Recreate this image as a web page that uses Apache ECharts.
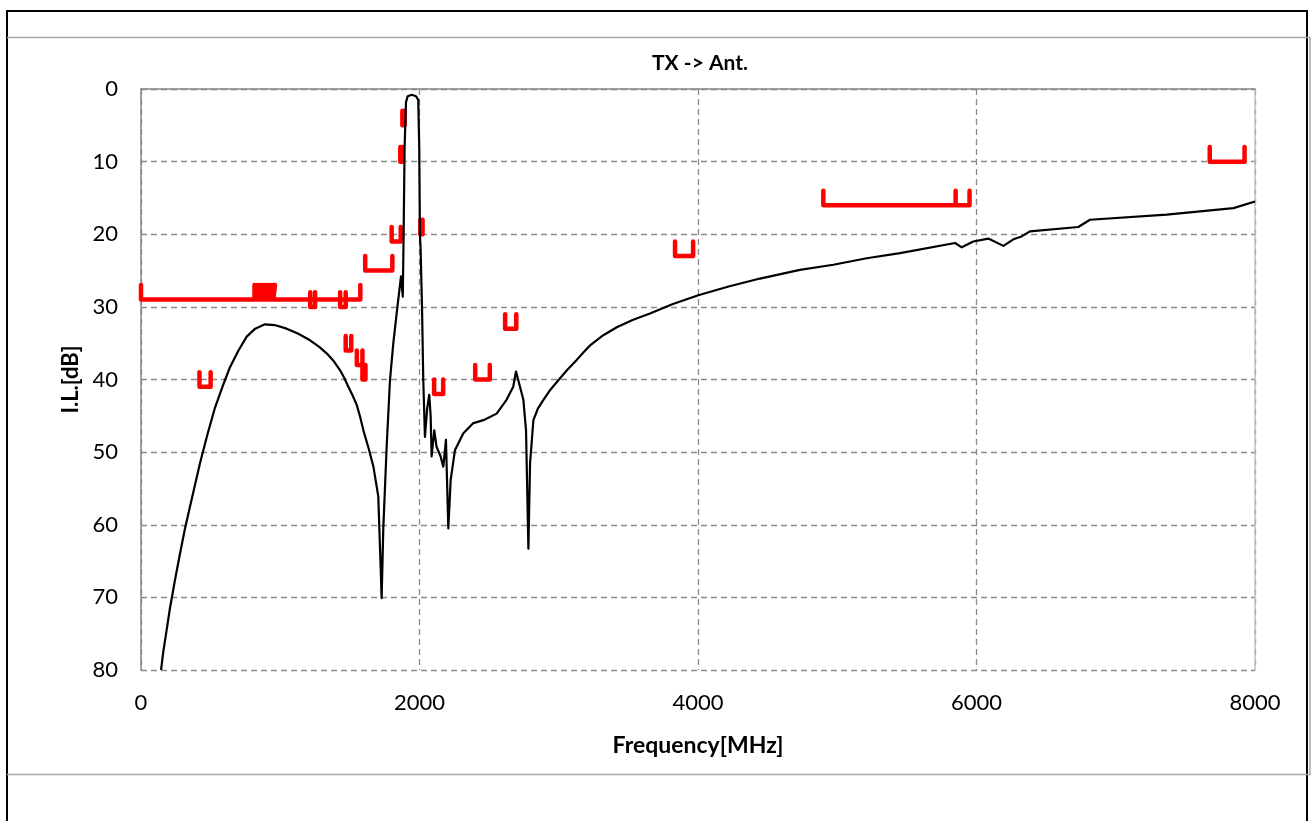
<!DOCTYPE html>
<html>
<head>
<meta charset="utf-8">
<script src="https://cdn.jsdelivr.net/npm/echarts@6/dist/echarts.min.js"></script>
<style>
html,body{margin:0;padding:0;background:#fff;}
#c{width:1313px;height:821px;}
</style>
</head>
<body>
<div id="c"></div>
<script>
// Measured insertion loss: frequency [MHz] and I.L. [dB]
const freqMHz = [144, 160, 176, 208, 245, 280, 316, 352, 388, 424, 478, 531, 585, 639, 700, 759, 820, 890, 960, 1046, 1130, 1214, 1280, 1333, 1385, 1429, 1460, 1489, 1520, 1549, 1573, 1597, 1635, 1669, 1704, 1721, 1728, 1740, 1764, 1788, 1812, 1836, 1867, 1880, 1886, 1893, 1903, 1915, 1944, 1975, 1991, 1998, 2003, 2008, 2013, 2018, 2027, 2039, 2055, 2070, 2080, 2087, 2106, 2123, 2150, 2171, 2190, 2207, 2224, 2255, 2315, 2387, 2459, 2554, 2625, 2673, 2693, 2746, 2765, 2782, 2794, 2818, 2850, 2890, 2940, 2997, 3060, 3129, 3180, 3225, 3320, 3417, 3530, 3655, 3820, 4002, 4220, 4445, 4732, 4972, 5211, 5451, 5846, 5894, 5977, 6085, 6193, 6265, 6324, 6384, 6731, 6815, 7366, 7845, 8000];
const lossDB = [80, 77.5, 75.5, 71.5, 67.5, 64, 60.5, 57.5, 54.5, 51.5, 47.5, 43.9, 41, 38.3, 36, 34.1, 33, 32.4, 32.5, 33, 33.7, 34.6, 35.5, 36.4, 37.5, 38.7, 39.8, 41, 42.2, 43.5, 45.1, 47, 49.5, 52, 56.1, 65.8, 70.1, 60.5, 49.3, 40.1, 35, 30.9, 25.8, 28.6, 20, 8, 1.8, 1.0, 0.8, 1.0, 1.5, 8, 20, 22, 26, 30, 40, 47.9, 44, 42.1, 45, 50.6, 47, 49.3, 50.5, 52, 48.3, 60.5, 53.8, 49.7, 47.4, 46, 45.6, 44.7, 42.8, 41, 38.9, 42.8, 47, 63.3, 51.5, 45.6, 44, 42.8, 41.4, 40.1, 38.7, 37.3, 36.2, 35.3, 33.9, 32.8, 31.8, 30.9, 29.6, 28.4, 27.2, 26.1, 24.9, 24.2, 23.3, 22.6, 21.2, 21.8, 21, 20.6, 21.6, 20.7, 20.3, 19.6, 19, 18, 17.3, 16.4, 15.5];

// Specification marks: band start / stop [MHz] and required level [dB]
const specStart = [0, 815, 830, 845, 860, 875, 890, 905, 920, 935, 950, 1215, 1430, 1470, 1550, 1590, 420, 1610, 1800, 1862, 1877, 2006, 2105, 2400, 2615, 3835, 4900, 5850, 7675];
const specStop  = [1575, 830, 845, 860, 875, 890, 905, 920, 935, 950, 962, 1250, 1470, 1510, 1590, 1612, 500, 1805, 1865, 1878, 1893, 2022, 2170, 2505, 2695, 3965, 5950, 5950, 7925];
const specLevel = [29, 29, 29, 29, 29, 29, 29, 29, 29, 29, 29, 30, 30, 36, 38, 40, 41, 25, 21, 10, 5, 20, 42, 40, 33, 23, 16, 16, 10];
const specTick = 2;

const xTicks = [0, 2000, 4000, 6000, 8000];

const curve = freqMHz.map((f, i) => [f, lossDB[i]]);
const spec = [];
specStart.forEach((s, i) => {
  const e = specStop[i], l = specLevel[i];
  spec.push([s, l - specTick], [s, l], [e, l], [e, l - specTick], null);
});

const FONT = 'Lato';
const chart = echarts.init(document.getElementById('c'), null, {renderer: 'canvas'});
chart.setOption({
  animation: false,
  backgroundColor: '#fff',
  title: {
    text: 'TX -> Ant.',
    left: 695, top: 48, textAlign: 'center',
    textStyle: {fontFamily: FONT, fontSize: 21, fontWeight: 'bold', color: '#000'}
  },
  grid: {left: 141, top: 89, right: 58, bottom: 151},
  xAxis: {
    type: 'value', min: 0, max: 8000, interval: 2000,
    name: 'Frequency[MHz]', nameLocation: 'middle', nameGap: 64,
    nameTextStyle: {fontFamily: FONT, fontSize: 23, fontWeight: 'bold', color: '#000'},
    axisLine: {show: true, lineStyle: {color: '#868686', width: 1.5}},
    axisTick: {show: false},
    axisLabel: {fontFamily: FONT, fontSize: 22, color: '#000', margin: 22,
      formatter: v => xTicks.includes(v) ? String(v) : ''},
    splitLine: {show: true, lineStyle: {color: '#8a8a8a', type: [6, 4], width: 1.3}}
  },
  yAxis: [{
    type: 'value', min: 0, max: 80, interval: 10, inverse: true,
    name: 'I.L.[dB]', nameLocation: 'middle', nameGap: 57, nameRotate: 90,
    nameTextStyle: {fontFamily: FONT, fontSize: 22, fontWeight: 'bold', color: '#000'},
    axisLine: {show: true, lineStyle: {color: '#868686', width: 1.5}},
    axisTick: {show: false},
    axisLabel: {fontFamily: FONT, fontSize: 22, color: '#000', margin: 23},
    splitLine: {show: true, lineStyle: {color: '#8a8a8a', type: [6, 4], width: 1.3}}
  }, {
    type: 'value', min: 0, max: 80, interval: 10, inverse: true, position: 'right',
    axisLine: {show: true, lineStyle: {color: '#c0c0c0', width: 1.5}},
    axisTick: {show: false}, axisLabel: {show: false}, splitLine: {show: false}
  }],
  series: [{
    type: 'line', data: spec, symbol: 'none', connectNulls: false,
    lineStyle: {color: '#ff0000', width: 4.5, cap: 'round', join: 'round'}, z: 3
  }, {
    type: 'line', data: curve, symbol: 'none',
    lineStyle: {color: '#000', width: 2.2, join: 'round'}, z: 4
  }],
  graphic: [
    {type: 'rect', shape: {x: 7, y: 11, width: 1300, height: 830}, style: {fill: 'none', stroke: '#000', lineWidth: 2}, silent: true},
    {type: 'line', shape: {x1: 7, y1: 37.5, x2: 1310.5, y2: 37.5}, style: {stroke: '#a6a6a6', lineWidth: 1.5}, silent: true},
    {type: 'line', shape: {x1: 7, y1: 774.5, x2: 1310.5, y2: 774.5}, style: {stroke: '#a6a6a6', lineWidth: 1.5}, silent: true},
    {type: 'line', shape: {x1: 1310, y1: 37.5, x2: 1310, y2: 774.5}, style: {stroke: '#a6a6a6', lineWidth: 1.5}, silent: true}
  ]
});
</script>
</body>
</html>
